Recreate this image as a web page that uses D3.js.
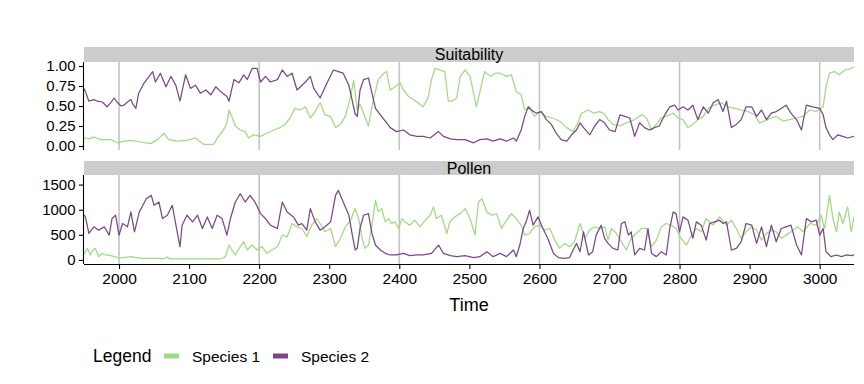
<!DOCTYPE html>
<html>
<head>
<meta charset="utf-8">
<script src="https://cdn.jsdelivr.net/npm/d3@7"></script>
<style>
  body { margin: 0; background: #fff; }
  text { font-family: "Liberation Sans", Arial, sans-serif; fill: #000; }
</style>
</head>
<body>
<svg id="chart" width="864" height="384"></svg>
<script>
const seriesNames = ["Species 1", "Species 2"];
const seriesColors = ["#9fdb80", "#7a4889"];
const timeTicks = d3.range(2000, 3001, 100);
const gridYears = [2000, 2200, 2400, 2600, 2800, 3000];
const suitTicks = [0, 0.25, 0.5, 0.75, 1];
const pollenTicks = [0, 500, 1000, 1500];

// [year, value] pairs
const suitSp1 = [[1950,0.10],[1952,0.10],[1957,0.09],[1964,0.11],[1974,0.08],[1988,0.08],[1998,0.04],[2007,0.06],[2017,0.07],[2031,0.05],[2045,0.03],[2055,0.08],[2064,0.16],[2071,0.08],[2083,0.06],[2097,0.07],[2109,0.10],[2121,0.02],[2135,0.02],[2142,0.12],[2149,0.20],[2154,0.29],[2157,0.45],[2161,0.37],[2166,0.25],[2173,0.20],[2180,0.18],[2185,0.10],[2192,0.14],[2202,0.12],[2211,0.16],[2221,0.20],[2230,0.23],[2237,0.27],[2244,0.35],[2251,0.47],[2259,0.45],[2266,0.49],[2273,0.35],[2280,0.43],[2287,0.54],[2294,0.39],[2302,0.37],[2309,0.23],[2316,0.27],[2323,0.37],[2330,0.60],[2335,0.82],[2340,0.45],[2344,0.52],[2349,0.41],[2356,0.25],[2363,0.58],[2370,0.83],[2378,0.91],[2382,0.93],[2387,0.70],[2394,0.74],[2401,0.79],[2406,0.70],[2413,0.62],[2420,0.58],[2427,0.54],[2434,0.49],[2441,0.60],[2446,0.83],[2451,0.97],[2458,0.95],[2465,0.93],[2470,0.56],[2475,0.56],[2482,0.60],[2487,0.87],[2494,0.95],[2501,0.87],[2506,0.66],[2510,0.49],[2518,0.79],[2522,0.93],[2530,0.87],[2537,0.91],[2544,0.91],[2553,0.87],[2560,0.89],[2567,0.68],[2574,0.64],[2579,0.45],[2586,0.49],[2593,0.37],[2600,0.43],[2610,0.37],[2619,0.35],[2629,0.31],[2639,0.23],[2648,0.18],[2655,0.29],[2660,0.41],[2670,0.45],[2677,0.41],[2686,0.43],[2693,0.40],[2698,0.33],[2705,0.27],[2715,0.25],[2724,0.29],[2736,0.33],[2746,0.39],[2753,0.35],[2760,0.20],[2767,0.27],[2774,0.35],[2781,0.37],[2791,0.41],[2798,0.35],[2805,0.33],[2812,0.23],[2819,0.27],[2826,0.33],[2834,0.37],[2841,0.47],[2850,0.51],[2860,0.54],[2869,0.49],[2879,0.47],[2888,0.45],[2898,0.43],[2907,0.39],[2914,0.29],[2921,0.31],[2931,0.35],[2938,0.37],[2948,0.31],[2957,0.33],[2967,0.35],[2976,0.37],[2986,0.45],[2995,0.43],[3005,0.49],[3009,0.74],[3014,0.91],[3021,0.93],[3028,0.89],[3036,0.95],[3043,0.96],[3049,0.99]];

const suitSp2 = [[1950,0.72],[1952,0.68],[1957,0.56],[1964,0.58],[1969,0.56],[1976,0.55],[1983,0.49],[1988,0.54],[1993,0.60],[1998,0.54],[2003,0.50],[2007,0.51],[2012,0.55],[2017,0.58],[2020,0.52],[2024,0.47],[2028,0.66],[2036,0.79],[2043,0.87],[2048,0.93],[2052,0.80],[2059,0.91],[2067,0.74],[2074,0.87],[2081,0.76],[2087,0.56],[2095,0.89],[2102,0.72],[2109,0.76],[2116,0.66],[2124,0.70],[2131,0.64],[2138,0.74],[2145,0.68],[2154,0.62],[2157,0.56],[2164,0.83],[2171,0.79],[2178,0.89],[2183,0.83],[2190,0.97],[2197,0.97],[2202,0.80],[2209,0.87],[2216,0.80],[2226,0.83],[2233,0.95],[2240,0.87],[2247,0.91],[2254,0.70],[2259,0.74],[2266,0.80],[2273,0.87],[2278,0.72],[2287,0.60],[2297,0.79],[2306,0.95],[2313,0.93],[2320,0.91],[2328,0.76],[2333,0.56],[2337,0.40],[2340,0.37],[2344,0.70],[2349,0.83],[2356,0.85],[2361,0.66],[2366,0.47],[2373,0.39],[2380,0.31],[2387,0.23],[2396,0.18],[2406,0.20],[2415,0.14],[2425,0.12],[2434,0.12],[2444,0.10],[2456,0.18],[2463,0.12],[2473,0.09],[2482,0.08],[2494,0.08],[2506,0.04],[2515,0.08],[2525,0.09],[2534,0.06],[2544,0.09],[2553,0.06],[2563,0.10],[2567,0.06],[2574,0.20],[2579,0.37],[2584,0.49],[2588,0.45],[2596,0.41],[2603,0.43],[2610,0.33],[2617,0.27],[2624,0.16],[2631,0.08],[2639,0.06],[2646,0.14],[2653,0.20],[2658,0.29],[2663,0.23],[2672,0.14],[2679,0.25],[2686,0.33],[2693,0.29],[2700,0.20],[2708,0.18],[2715,0.39],[2722,0.37],[2729,0.35],[2736,0.12],[2743,0.29],[2750,0.23],[2757,0.20],[2764,0.23],[2771,0.25],[2779,0.39],[2786,0.49],[2793,0.51],[2798,0.45],[2805,0.49],[2812,0.45],[2819,0.51],[2826,0.33],[2834,0.49],[2841,0.41],[2848,0.54],[2855,0.58],[2862,0.43],[2867,0.56],[2874,0.23],[2881,0.27],[2888,0.33],[2895,0.49],[2903,0.49],[2910,0.37],[2917,0.45],[2924,0.33],[2931,0.41],[2938,0.43],[2945,0.47],[2952,0.51],[2959,0.41],[2967,0.33],[2974,0.20],[2981,0.51],[2990,0.49],[3000,0.47],[3005,0.39],[3009,0.23],[3014,0.14],[3019,0.08],[3026,0.14],[3033,0.12],[3040,0.10],[3049,0.12]];

const pollenSp1 = [[1950,120],[1952,165],[1955,231],[1959,99],[1963,200],[1966,231],[1971,66],[1976,130],[1981,99],[1987,90],[1993,66],[2000,40],[2007,46],[2017,66],[2031,33],[2050,33],[2065,25],[2069,60],[2072,20],[2088,20],[2107,20],[2126,20],[2145,20],[2152,66],[2157,297],[2161,198],[2166,99],[2173,264],[2178,362],[2183,198],[2190,297],[2197,198],[2204,264],[2211,132],[2218,198],[2226,264],[2233,494],[2240,461],[2247,725],[2254,659],[2261,626],[2268,461],[2275,692],[2282,824],[2287,725],[2294,560],[2302,626],[2309,264],[2316,428],[2323,659],[2330,780],[2337,1021],[2342,824],[2347,428],[2351,231],[2356,297],[2361,692],[2366,1186],[2370,956],[2375,1021],[2380,758],[2385,824],[2389,725],[2394,758],[2399,626],[2404,824],[2408,758],[2415,692],[2422,791],[2430,659],[2437,791],[2444,890],[2449,1054],[2453,824],[2460,890],[2468,527],[2472,758],[2479,857],[2487,922],[2494,1021],[2501,824],[2508,494],[2513,1153],[2518,1219],[2525,956],[2532,890],[2539,922],[2546,626],[2553,791],[2560,922],[2567,824],[2574,692],[2579,494],[2586,527],[2593,659],[2600,692],[2608,593],[2615,626],[2622,395],[2629,231],[2636,330],[2643,264],[2650,362],[2658,725],[2665,428],[2672,600],[2679,659],[2686,626],[2693,659],[2698,400],[2703,626],[2710,527],[2717,362],[2724,198],[2731,428],[2738,527],[2746,626],[2753,626],[2760,264],[2767,395],[2774,659],[2781,725],[2788,692],[2795,626],[2802,428],[2810,297],[2817,494],[2824,626],[2831,560],[2838,824],[2848,692],[2857,857],[2867,692],[2874,791],[2881,626],[2888,428],[2895,560],[2903,659],[2910,593],[2917,395],[2924,527],[2931,593],[2938,560],[2945,428],[2952,494],[2959,560],[2969,659],[2976,560],[2986,725],[2995,692],[3002,890],[3007,626],[3014,1285],[3019,824],[3024,560],[3028,956],[3033,725],[3040,1054],[3045,560],[3049,857]];

const pollenSp2 = [[1950,900],[1952,857],[1957,527],[1964,659],[1971,593],[1979,659],[1986,494],[1990,824],[1995,890],[2000,494],[2005,725],[2012,659],[2017,956],[2022,560],[2029,956],[2034,1087],[2039,1219],[2046,1285],[2050,1087],[2057,1153],[2062,824],[2069,890],[2076,1087],[2083,560],[2087,264],[2090,692],[2097,890],[2105,758],[2112,890],[2119,626],[2126,857],[2133,626],[2140,890],[2147,824],[2154,494],[2159,824],[2166,1153],[2173,1318],[2180,1153],[2187,1285],[2194,1153],[2202,922],[2209,824],[2216,692],[2226,626],[2233,1153],[2240,956],[2249,857],[2256,692],[2261,725],[2268,593],[2273,1021],[2280,758],[2287,593],[2294,659],[2302,758],[2309,1285],[2313,1384],[2320,1153],[2328,890],[2333,494],[2337,200],[2340,231],[2344,626],[2349,890],[2356,922],[2361,527],[2366,297],[2373,198],[2380,132],[2387,99],[2396,99],[2406,132],[2415,86],[2425,99],[2434,99],[2446,132],[2456,297],[2463,132],[2473,86],[2482,66],[2494,86],[2506,46],[2515,66],[2525,165],[2534,66],[2544,132],[2553,66],[2563,198],[2567,66],[2572,297],[2577,626],[2581,758],[2586,988],[2591,692],[2598,857],[2605,626],[2612,428],[2620,132],[2627,46],[2636,33],[2643,46],[2648,198],[2653,330],[2658,165],[2663,560],[2670,99],[2676,165],[2681,494],[2688,692],[2693,428],[2698,330],[2705,231],[2712,198],[2717,725],[2722,758],[2727,494],[2731,560],[2736,99],[2743,231],[2750,198],[2755,626],[2760,132],[2767,66],[2774,165],[2781,99],[2786,626],[2791,956],[2795,922],[2800,560],[2805,857],[2812,791],[2819,428],[2824,758],[2831,692],[2838,395],[2843,725],[2850,758],[2857,791],[2862,725],[2867,758],[2874,198],[2881,231],[2888,362],[2895,725],[2903,692],[2910,330],[2917,659],[2924,264],[2931,692],[2938,362],[2945,626],[2952,659],[2959,692],[2967,297],[2974,99],[2981,824],[2988,758],[2995,791],[3000,494],[3005,626],[3009,165],[3016,66],[3024,99],[3031,66],[3038,99],[3045,86],[3049,99]];

const svg = d3.select("#chart");
const left = 84, right = 854;

const x = d3.scaleLinear().domain([1950, 3049]).range([left, right]);

const panels = [
    { title: "Suitability", stripTop: 47, top: 62, bottom: 150, domain: [-0.05, 1.05],
      ticks: suitTicks, fmt: d3.format(".2f"), data: [suitSp1, suitSp2] },
    { title: "Pollen", stripTop: 161, top: 175, bottom: 264, domain: [-80.5, 1690.5],
      ticks: pollenTicks, fmt: d3.format("d"), data: [pollenSp1, pollenSp2] }
];

panels.forEach((p, i) => {
    const y = d3.scaleLinear().domain(p.domain).range([p.bottom, p.top]);

    // strip
    svg.append("rect")
        .attr("x", left).attr("y", p.stripTop)
        .attr("width", right - left).attr("height", p.top - p.stripTop)
        .attr("fill", "#cccccc");
    svg.append("text")
        .attr("x", (left + right) / 2).attr("y", (p.stripTop + p.top) / 2)
        .attr("dy", "0.36em")
        .attr("text-anchor", "middle")
        .style("font-size", "16px")
        .text(p.title);

    svg.append("clipPath").attr("id", "clip" + i)
        .append("rect")
        .attr("x", left).attr("y", p.top)
        .attr("width", right - left).attr("height", p.bottom - p.top);

    const g = svg.append("g").attr("clip-path", `url(#clip${i})`);

    // vertical reference lines
    g.selectAll("line.grid")
        .data(gridYears)
        .enter().append("line")
        .attr("x1", d => x(d)).attr("x2", d => x(d))
        .attr("y1", p.top).attr("y2", p.bottom)
        .attr("stroke", "#c4c4c4")
        .attr("stroke-width", 1.6);

    const line = d3.line()
        .x(d => x(d[0]))
        .y(d => y(d[1]));

    p.data.forEach((series, k) => {
        g.append("path")
            .datum(series)
            .attr("d", line)
            .attr("fill", "none")
            .attr("stroke", seriesColors[k])
            .attr("stroke-width", 1.25)
            .attr("stroke-linejoin", "round");
    });

    // y axis
    const yAxis = svg.append("g")
        .attr("transform", `translate(${left - 0.5},0)`)
        .call(d3.axisLeft(y).tickValues(p.ticks).tickFormat(p.fmt).tickSize(4.5).tickPadding(3.5));
    yAxis.select(".domain").attr("d", `M0,${p.top}V${p.bottom}`).attr("stroke", "#000").attr("stroke-width", 1.1);
    yAxis.selectAll(".tick line").attr("stroke", "#000").attr("stroke-width", 1.1);
    yAxis.selectAll(".tick text").style("font-size", "15px").attr("fill", "#000")
        .style("font-family", "'Liberation Sans', Arial, sans-serif");
});

// x axis on bottom panel
const xAxis = svg.append("g")
    .attr("transform", `translate(0,${264.5})`)
    .call(d3.axisBottom(x).tickValues(timeTicks).tickFormat(d3.format("d")).tickSize(4.5).tickPadding(4));
xAxis.select(".domain").attr("d", `M${left},0H${right}`).attr("stroke", "#000").attr("stroke-width", 1.1);
xAxis.selectAll(".tick line").attr("stroke", "#000").attr("stroke-width", 1.1);
xAxis.selectAll(".tick text").style("font-size", "15.5px").attr("fill", "#000")
    .style("font-family", "'Liberation Sans', Arial, sans-serif");

svg.append("text")
    .attr("x", (left + right) / 2).attr("y", 305)
    .attr("dy", "0.36em")
    .attr("text-anchor", "middle")
    .style("font-size", "18px")
    .text("Time");

// legend
svg.append("text")
    .attr("x", 93).attr("y", 362)
    .style("font-size", "17.5px")
    .text("Legend");

const keyX = [164, 273];
const labelX = [192, 301];
seriesNames.forEach((name, k) => {
    svg.append("rect")
        .attr("x", keyX[k]).attr("y", 353.5)
        .attr("width", 15).attr("height", 5)
        .attr("fill", seriesColors[k]);
    svg.append("text")
        .attr("x", labelX[k]).attr("y", 362)
        .style("font-size", "15.5px")
        .text(name);
});
</script>
</body>
</html>
